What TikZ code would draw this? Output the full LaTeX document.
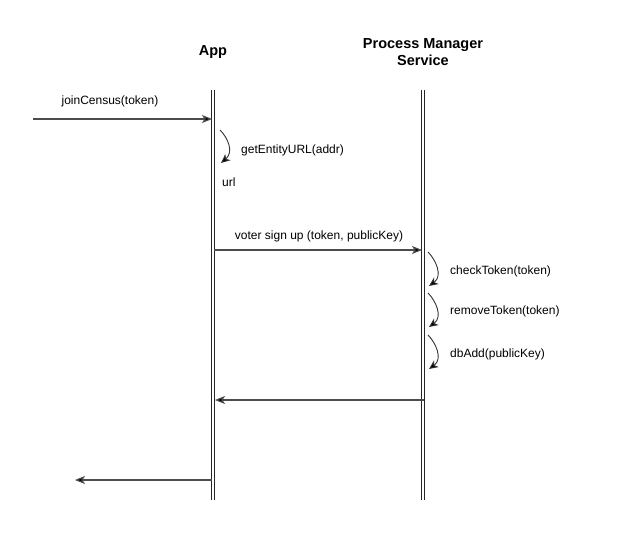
\documentclass[tikz,border=0pt]{standalone}
\usepackage{fontspec}
\setmainfont{Liberation Sans}
\usetikzlibrary{arrows.meta}
\begin{document}
\begin{tikzpicture}[x=1pt,y=-1pt,
  lifeline/.style={draw=black!85,line width=1.1pt,double=white,double distance=2.6pt},
  msg/.style={draw=black!70,line width=1.1pt,-{Stealth[length=10pt,width=8pt,inset=2.5pt,fill=black]}},
  selfcall/.style={draw=black!80,line width=0.9pt,-{Stealth[length=9pt,width=8pt,inset=2.5pt,fill=black]}},
  title/.style={font=\fontsize{14.5}{17}\selectfont\bfseries,align=center,inner sep=0pt},
  lbl/.style={font=\fontsize{12}{14}\selectfont,inner sep=0pt}]
\useasboundingbox (0,0) rectangle (632,559);
% titles
\node[title] (app) at (213,52) {App};
\node[title] (pm) at (423,52) {Process Manager\\Service};
% lifelines
\coordinate (appTop) at (213,90);
\coordinate (appBot) at (213,500);
\coordinate (pmTop) at (423,90);
\coordinate (pmBot) at (423,500);
\draw[lifeline] (appTop) -- (appBot);
\draw[lifeline] (pmTop) -- (pmBot);
% joinCensus
\coordinate (inStart) at (33,119);
\coordinate (inEnd) at (212,119);
\draw[msg] (inStart) -- (inEnd);
\node[lbl] (l1) at (110,101) {joinCensus(token)};
% getEntityURL self-call
\coordinate (g1) at (220,130);
\coordinate (g2) at (221,163);
\draw[selfcall] (g1) .. controls (228,138) and (234,152) .. (g2);
\node[lbl,anchor=west] (l2) at (241,150) {getEntityURL(addr)};
\node[lbl,anchor=west] (l3) at (222,182) {url};
% voter sign up
\coordinate (vStart) at (214,250);
\coordinate (vEnd) at (422,250);
\draw[msg] (vStart) -- (vEnd);
\node[lbl] (l4) at (319,236) {voter sign up (token, publicKey)};
% self-calls at PM
\coordinate (c1a) at (428,252);
\coordinate (c1b) at (429,286);
\draw[selfcall] (c1a) .. controls (436,260) and (443,276) .. (c1b);
\node[lbl,anchor=west] (l5) at (450,271) {checkToken(token)};
\coordinate (c2a) at (428,293);
\coordinate (c2b) at (429,327);
\draw[selfcall] (c2a) .. controls (436,301) and (443,317) .. (c2b);
\node[lbl,anchor=west] (l6) at (450,311) {removeToken(token)};
\coordinate (c3a) at (428,335);
\coordinate (c3b) at (429,369);
\draw[selfcall] (c3a) .. controls (436,343) and (443,359) .. (c3b);
\node[lbl,anchor=west] (l7) at (450,354) {dbAdd(publicKey)};
% returns
\coordinate (rStart) at (424,400);
\coordinate (rEnd) at (215,400);
\draw[msg] (rStart) -- (rEnd);
\coordinate (oStart) at (212,480);
\coordinate (oEnd) at (75,480);
\draw[msg] (oStart) -- (oEnd);
\end{tikzpicture}
\end{document}
